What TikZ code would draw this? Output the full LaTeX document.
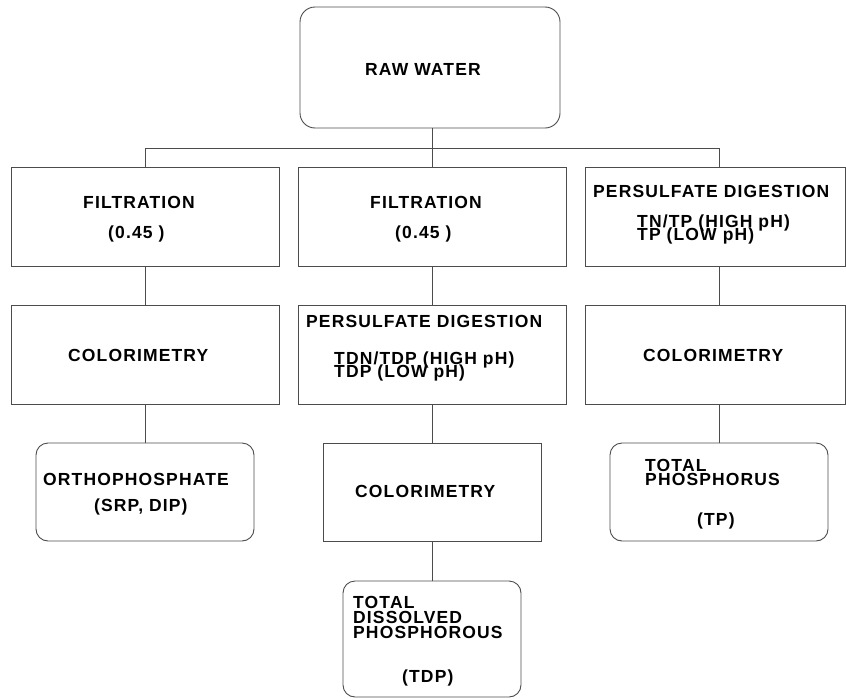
\documentclass[tikz,border=0pt]{standalone}
\usepackage{fontspec}
\setmainfont{Liberation Sans}[LetterSpace=6.5]
\newcommand\mytightlines{\lineskiplimit=-50pt\relax}
\begin{document}
\begin{tikzpicture}[x=1pt,y=-1pt,
  box/.style={draw=black!70,line width=0.9pt,inner sep=0pt,minimum width=#1},
  rbox/.style={box=#1,rounded corners=12pt},
  link/.style={draw=black!70,line width=0.9pt},
  txt/.style={anchor=base west,inner sep=0pt,font=\fontsize{17.5}{17.5}\selectfont\bfseries},
  stack/.style={anchor=north west,inner sep=0pt,align=left,
    font=\fontsize{17.5}{#1}\selectfont\bfseries\mytightlines}]
\useasboundingbox (0,0) rectangle (846,699);
% boxes
\node[box=260pt,rounded corners=15pt,minimum height=121pt] (raw) at (430,67.5) {};
\node[box=268pt,minimum height=99pt] (f1) at (145,216.5) {};
\node[box=268pt,minimum height=99pt] (f2) at (432,216.5) {};
\node[box=260pt,minimum height=99pt] (pd1) at (715,216.5) {};
\node[box=268pt,minimum height=99pt] (c1) at (145,354.5) {};
\node[box=268pt,minimum height=99pt] (pd2) at (432,354.5) {};
\node[box=260pt,minimum height=99pt] (c3) at (715,354.5) {};
\node[rbox=218pt,minimum height=98pt] (o) at (145,492) {};
\node[box=218pt,minimum height=98pt] (c2) at (432,492) {};
\node[rbox=218pt,minimum height=98pt] (tp) at (719,492) {};
\node[rbox=178pt,minimum height=116pt] (tdp) at (432,639) {};
% connectors
\coordinate (busL) at (145,148);
\coordinate (busM) at (432,148);
\coordinate (busR) at (719,148);
\draw[link] (busM |- raw.south) -- (busM);
\draw[link] (f1.north) -- (busL) -- (busR) -- (busR |- pd1.north);
\draw[link] (busM) -- (f2.north);
\draw[link] (f1.south) -- (c1.north);
\draw[link] (c1.south) -- (o.north);
\draw[link] (f2.south) -- (pd2.north);
\draw[link] (pd2.south) -- (c2.north);
\draw[link] (c2.south) -- (tdp.north);
\draw[link] (busR |- pd1.south) -- (busR |- c3.north);
\draw[link] (busR |- c3.south) -- (tp.north);
% texts
\node[txt] (t1) at (365,75) {RAW WATER};
\node[txt] (t2) at (83,208) {FILTRATION};
\node[txt] (t3) at (108,238) {(0.45 )};
\node[txt] (t4) at (370,208) {FILTRATION};
\node[txt] (t5) at (395,238) {(0.45 )};
\node[txt] (t6) at (593,197) {PERSULFATE DIGESTION};
\node[stack=13pt] (t7) at (637,214.3) {TN/TP (HIGH pH)\\TP (LOW pH)};
\node[txt] (t9) at (68,361) {COLORIMETRY};
\node[txt] (t10) at (306,327) {PERSULFATE DIGESTION};
\node[stack=13pt] (t11) at (334,352) {TDN/TDP (HIGH pH)\\TDP (LOW pH)};
\node[txt] (t13) at (643,361) {COLORIMETRY};
\node[txt] (t14) at (43,485) {ORTHOPHOSPHATE};
\node[txt] (t15) at (94,511) {(SRP, DIP)};
\node[txt] (t16) at (355,497) {COLORIMETRY};
\node[stack=14pt] (t17) at (645,459.5) {TOTAL\\PHOSPHORUS};
\node[txt] (t19) at (697,525) {(TP)};
\node[stack=15pt] (t20) at (353,596.5) {TOTAL\\DISSOLVED\\PHOSPHOROUS};
\node[txt] (t23) at (402,682) {(TDP)};
\end{tikzpicture}
\end{document}
